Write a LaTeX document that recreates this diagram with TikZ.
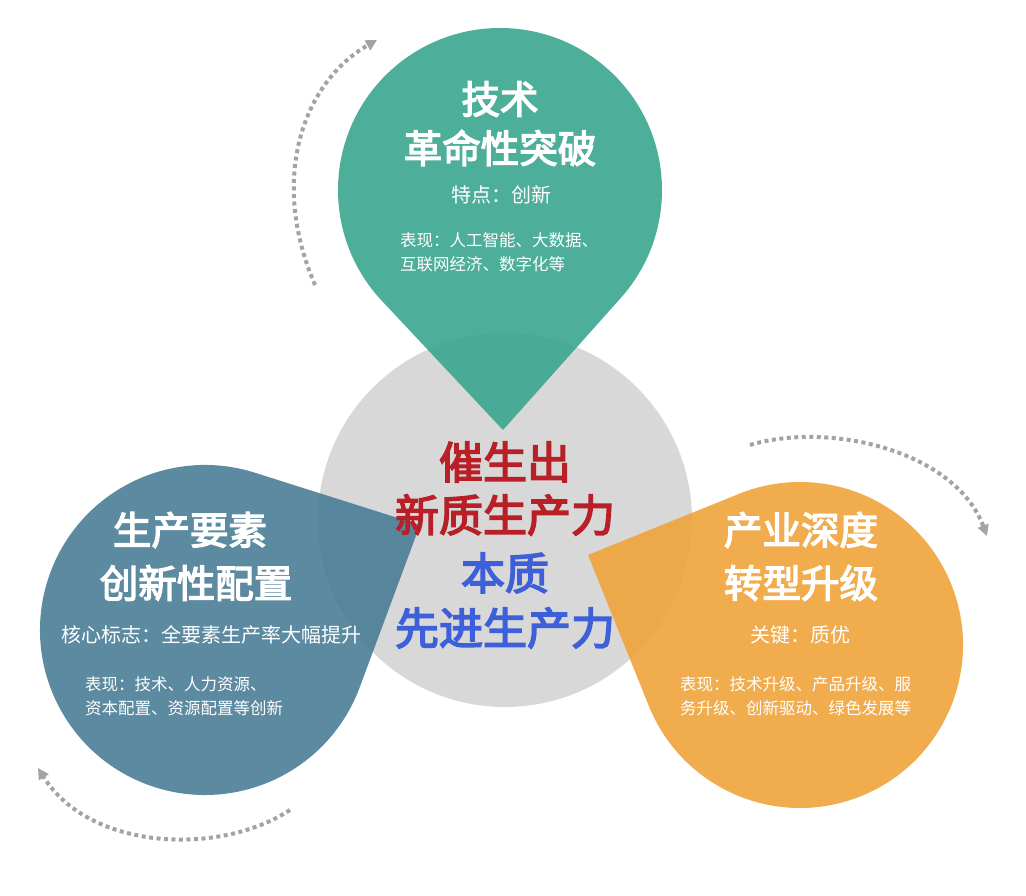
\documentclass[tikz,border=0pt]{standalone}
\usepackage{fontspec}
\setmainfont{Noto Sans CJK SC}
\newfontfamily\cjkb{Noto Sans CJK SC}[FakeBold=3.5]
\usetikzlibrary{arrows.meta,calc}
\definecolor{cgreen}{HTML}{3AA58E}
\definecolor{cblue}{HTML}{4A7D96}
\definecolor{corange}{HTML}{F0A33A}
\definecolor{cgray}{HTML}{D8D8D8}
\definecolor{cred}{HTML}{B81F27}
\definecolor{cbl}{HTML}{3D5FD8}
\definecolor{cdot}{HTML}{A3A3A3}
\tikzset{
  ttl/.style={text=white,font=\cjkb\fontsize{38.5}{44}\selectfont,align=center,inner sep=0},
  sub/.style={text=white,font=\fontsize{20}{24}\selectfont,inner sep=0},
  sml/.style={text=white,font=\fontsize{16.5}{24}\selectfont,align=left,inner sep=0},
  ctr/.style={font=\cjkb\fontsize{44}{50}\selectfont,inner sep=0},
  cyc/.style={cdot,line width=4pt,dash pattern=on 4pt off 3.5pt,-{Triangle[length=11pt,width=11pt]}},
  drop/.style={fill opacity=0.9}
}
\begin{document}
\begin{tikzpicture}[x=1pt,y=1pt]
\useasboundingbox (0,0) rectangle (1026,896);
% center circle
\fill[cgray] (505,376) circle (187);
% green drop
\fill[cgreen,drop] (503,466) -- ($(500,706)+(-42.5:162)$) arc[start angle=-42.5,end angle=222.5,radius=162] -- cycle;
% blue drop
\fill[cblue,drop] (420,371) -- ($(205,266)+(72.3:165)$) arc[start angle=72.3,end angle=339.7,radius=165] -- cycle;
% orange drop
\fill[corange,drop] (588,341) -- ($(800,251)+(201.9:163)$) arc[start angle=201.9,end angle=472.1,radius=163] -- cycle;
% cycle arrows
\coordinate (a1) at (315,611); \coordinate (a2) at (377,856);
\coordinate (b1) at (750,451); \coordinate (b2) at (987,360);
\coordinate (c1) at (290,86);  \coordinate (c2) at (38,128);
\draw[cyc] (a1) .. controls (268,720) and (305,815) .. (a2);
\draw[cyc] (b1) .. controls (830,475) and (955,445) .. (b2);
\draw[cyc] (c1) .. controls (220,40) and (90,45) .. (c2);
% green text
\node[ttl] (g1) at (500,797) {技术};
\node[ttl] (g2) at (500,748) {革命性突破};
\node[sub] (g3) at (501,701) {特点：创新};
\node[sml,anchor=north west] (g4) at (400,664) {表现：人工智能、大数据、\\互联网经济、数字化等};
% center text
\node[ctr,text=cred] (c1t) at (505,434) {催生出};
\node[ctr,text=cred] (c2t) at (505,381) {新质生产力};
\node[ctr,text=cbl] (c3t) at (505,323) {本质};
\node[ctr,text=cbl] (c4t) at (505,268) {先进生产力};
% blue text
\node[ttl] (b1t) at (190,366) {生产要素};
\node[ttl] (b2t) at (196,313) {创新性配置};
\node[sub] (b3t) at (211,261) {核心标志：全要素生产率大幅提升};
\node[sml,anchor=north west] (b4t) at (85,220) {表现：技术、人力资源、\\资本配置、资源配置等创新};
% orange text
\node[ttl] (o1t) at (801,366) {产业深度};
\node[ttl] (o2t) at (801,313) {转型升级};
\node[sub] (o3t) at (800,261) {关键：质优};
\node[sml,anchor=north west] (o4t) at (680,220) {表现：技术升级、产品升级、服\\务升级、创新驱动、绿色发展等};
\end{tikzpicture}
\end{document}
